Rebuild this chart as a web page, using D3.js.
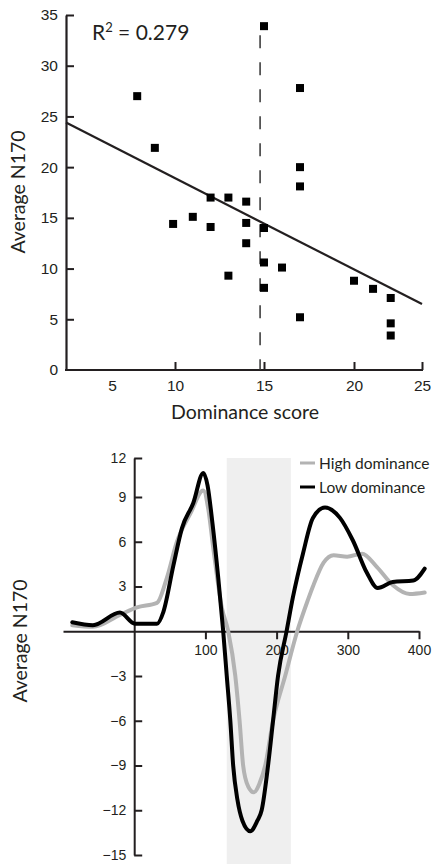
<!DOCTYPE html>
<html><head><meta charset="utf-8">
<script src="https://cdn.jsdelivr.net/npm/d3@7"></script>
<style>html,body{margin:0;padding:0;background:#fff;}svg{display:block;font-family:Lato,"Open Sans",sans-serif;}</style>
</head><body><div id="chart"></div>
<script>
// ---------- Top panel data (scatter) ----------
const dominanceScore = [7.0, 8.4, 9.85, 11, 12, 12, 13, 13, 14, 14, 14, 15, 15, 15, 15, 16, 17, 17, 17, 17, 20, 21.4, 22.7, 22.7, 22.7];
const avgN170 = [27.0, 21.9, 14.4, 15.1, 17.0, 14.1, 17.0, 9.3, 16.6, 14.5, 12.5, 33.9, 14.0, 10.6, 8.1, 10.1, 27.8, 20.0, 18.1, 5.2, 8.8, 8.0, 7.1, 4.6, 3.4];
const regressionX = [1.35, 25];
const regressionY = [24.4, 6.5];
const medianSplit = 14.78;
const dashTop = 33.0;
const rSquaredText = "0.279";
const topYTicks = [0, 5, 10, 15, 20, 25, 30, 35];
const topXTicks = [5, 10, 15, 20, 25];

// ---------- Bottom panel data (waveforms) ----------
const lowTime = [-87,-58,-20,1,32,41,55,67,83,97,103,110,118,125,130,135,139,145,152,163,173,179,188,195,202,214,223,237,251,268,289,307,327,342,363,392,408];
const lowValue = [0.6,0.4,1.25,0.5,0.5,1.3,4.4,6.9,8.6,10.85,9.9,7.2,3.6,0,-3.0,-6.0,-9.0,-11.3,-12.7,-13.4,-12.7,-12.0,-9.0,-6.0,-3.0,0,2.3,5.2,7.6,8.3,7.6,6.1,3.9,2.9,3.3,3.4,4.2];
const highTime = [-87,-58,-20,4,32,46,60,79,97,104,111,123,132,142,148,153,160,168,176,184,195,212,229,244,251,266,280,299,320,341,363,387,408];
const highValue = [0.4,0.3,1.1,1.6,1.9,3.6,6.0,7.9,9.5,8.2,5.6,1.6,0,-3.0,-6.0,-9.0,-10.4,-10.8,-10.2,-9.0,-6.0,-3.0,0,2.1,3.0,4.6,5.1,5.0,5.2,4.3,3.1,2.5,2.6];
const shadeWindow = [130, 220];
const waveYTicks = [-15, -12, -9, -6, -3, 3, 6, 9, 12];
const waveXTicks = [100, 200, 300, 400];
const seriesNames = ["High dominance", "Low dominance"];
const seriesColors = ["#b3b3b3", "#000000"];

const W = 433, H = 864;
const ink = "#231f20";
const svg = d3.select("#chart").append("svg").attr("width", W).attr("height", H);

// ================= TOP PANEL =================
const xTop = d3.scaleLinear().domain([5, 10, 15, 20, 25]).range([112, 175, 264, 354, 422]);
const yTop = d3.scaleLinear().domain([0, 35]).range([370, 15]);
const topAxisLeft = 66;

const gTop = svg.append("g");

// y axis
const yAxT = gTop.append("g").attr("transform", `translate(${topAxisLeft},0)`)
  .call(d3.axisLeft(yTop).tickValues(topYTicks).tickSizeInner(-8).tickSizeOuter(0).tickPadding(8));
yAxT.select(".domain").attr("stroke", ink).attr("stroke-width", 2.2);
yAxT.selectAll(".tick line").attr("stroke", ink).attr("stroke-width", 2);
yAxT.selectAll(".tick text").attr("font-size", 15.5).attr("fill", ink);
yAxT.selectAll(".tick").filter(d => d === 0).select("line").remove();

// x axis
const xAxT = gTop.append("g").attr("transform", `translate(0,${yTop(0)})`)
  .call(d3.axisBottom(xTop).tickValues(topXTicks).tickSizeInner(-8).tickSizeOuter(0).tickPadding(10));
xAxT.select(".domain").attr("d", `M${topAxisLeft - 1},0H${xTop(25) + 1}`).attr("stroke", ink).attr("stroke-width", 2.2);
xAxT.selectAll(".tick line").attr("stroke", ink).attr("stroke-width", 2);
xAxT.selectAll(".tick").filter(d => d === 5).select("line").remove();
xAxT.selectAll(".tick text").attr("font-size", 15.5).attr("fill", ink);

// dashed median line
gTop.append("line")
  .attr("x1", xTop(medianSplit)).attr("x2", xTop(medianSplit))
  .attr("y1", yTop(dashTop)).attr("y2", yTop(0))
  .attr("stroke", "#333").attr("stroke-width", 1.5).attr("stroke-dasharray", "13,14");

// regression line
gTop.append("line")
  .attr("x1", xTop(regressionX[0])).attr("y1", yTop(regressionY[0]))
  .attr("x2", xTop(regressionX[1])).attr("y2", yTop(regressionY[1]))
  .attr("stroke", ink).attr("stroke-width", 2.2);

// points
const sq = 8;
gTop.selectAll("rect.pt").data(dominanceScore.map((d, i) => [d, avgN170[i]])).join("rect")
  .attr("class", "pt")
  .attr("x", d => xTop(d[0]) - sq / 2).attr("y", d => yTop(d[1]) - sq / 2)
  .attr("width", sq).attr("height", sq).attr("fill", "#000");

// R^2
const rt = gTop.append("text").attr("x", 92).attr("y", 40).attr("font-size", 21).attr("fill", ink);
rt.append("tspan").text("R");
rt.append("tspan").attr("font-size", 13).attr("dy", -8).text("2");
rt.append("tspan").attr("dy", 8).text(" = " + rSquaredText);

// axis titles
gTop.append("text").attr("transform", "translate(25,192) rotate(-90)").attr("text-anchor", "middle")
  .attr("font-size", 19.5).attr("fill", ink).text("Average N170");
gTop.append("text").attr("x", 245).attr("y", 419).attr("text-anchor", "middle")
  .attr("font-size", 19.5).attr("fill", ink).text("Dominance score");

// ================= BOTTOM PANEL =================
const xB = d3.scaleLinear().domain([-100, 400]).range([63, 419]);
const yB = d3.scaleLinear().domain([-15, 9, 12]).range([855, 497, 458]);
const gBot = svg.append("g");

// shaded window
gBot.append("rect").attr("x", xB(shadeWindow[0])).attr("y", yB(12))
  .attr("width", xB(shadeWindow[1]) - xB(shadeWindow[0])).attr("height", H - yB(12))
  .attr("fill", "#efefef");

// x axis at 0
const xAxB = gBot.append("g").attr("transform", `translate(0,${yB(0)})`)
  .call(d3.axisBottom(xB).tickValues(waveXTicks).tickSizeInner(8).tickSizeOuter(0).tickPadding(6));
xAxB.select(".domain").attr("stroke", ink).attr("stroke-width", 2);
xAxB.selectAll(".tick line").attr("stroke", ink).attr("stroke-width", 2);
xAxB.selectAll(".tick text").attr("font-size", 14).attr("fill", ink);

// y axis at 0 ms
const yAxB = gBot.append("g").attr("transform", `translate(${xB(0)},0)`)
  .call(d3.axisLeft(yB).tickValues(waveYTicks).tickSizeInner(-8).tickSizeOuter(0).tickPadding(8));
yAxB.select(".domain").attr("stroke", ink).attr("stroke-width", 2);
yAxB.selectAll(".tick line").attr("stroke", ink).attr("stroke-width", 2);
yAxB.selectAll(".tick text").attr("font-size", 14).attr("fill", ink);

// waveforms
const line = d3.line().x(d => xB(d[0])).y(d => yB(d[1])).curve(d3.curveMonotoneX);
gBot.append("path").datum(highTime.map((t, i) => [t, highValue[i]]))
  .attr("d", line).attr("fill", "none").attr("stroke", seriesColors[0]).attr("stroke-width", 4)
  .attr("stroke-linejoin", "round").attr("stroke-linecap", "round");
gBot.append("path").datum(lowTime.map((t, i) => [t, lowValue[i]]))
  .attr("d", line).attr("fill", "none").attr("stroke", seriesColors[1]).attr("stroke-width", 4)
  .attr("stroke-linejoin", "round").attr("stroke-linecap", "round");

// legend
const leg = gBot.append("g");
seriesNames.forEach((name, i) => {
  const y = 463 + i * 24;
  leg.append("line").attr("x1", 300).attr("x2", 315).attr("y1", y).attr("y2", y)
    .attr("stroke", seriesColors[i]).attr("stroke-width", 3);
  leg.append("text").attr("x", 319).attr("y", y + 6).attr("font-size", 15.5).attr("fill", ink).text(name);
});

// y title
gBot.append("text").attr("transform", "translate(27,641) rotate(-90)").attr("text-anchor", "middle")
  .attr("font-size", 19.5).attr("fill", ink).text("Average N170");
</script></body></html>
